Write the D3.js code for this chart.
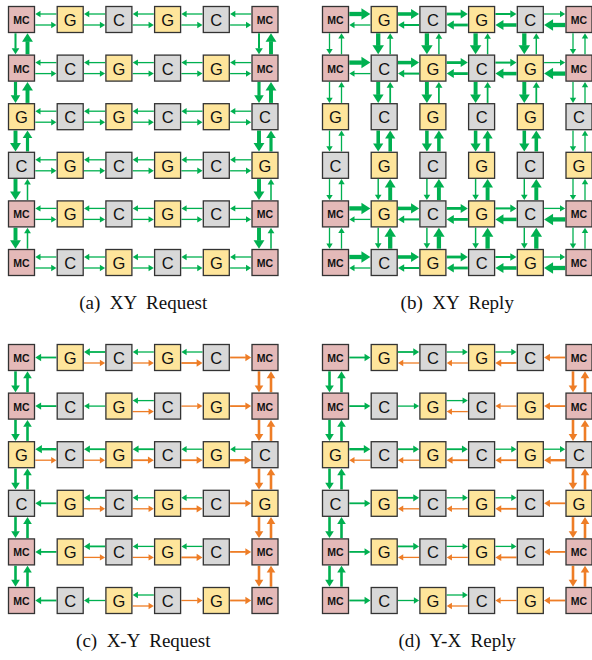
<!DOCTYPE html>
<html><head><meta charset="utf-8">
<script src="https://cdn.jsdelivr.net/npm/d3@7"></script>
<style>html,body{margin:0;padding:0;background:#fff;}</style>
</head><body>
<svg id="chart" width="592" height="660"></svg>
<script>
// ---------- data ----------
const nodeTypes = [
  ["MC","G","C","G","C","MC"],
  ["MC","C","G","C","G","MC"],
  ["G","C","G","C","G","C"],
  ["C","G","C","G","C","G"],
  ["MC","G","C","G","C","MC"],
  ["MC","C","G","C","G","MC"]
];
const captions = ["(a)  XY  Request","(b)  XY  Reply","(c)  X-Y  Request","(d)  Y-X  Reply"];

// (a) XY Request: horizontal both ways everywhere, vertical only at MC columns
const aHorizLeft  = [[1,1,1,1,1],[1,1,1,1,1],[1,1,1,1,1],[1,1,1,1,1],[1,1,1,1,1],[1,1,1,1,1]];
const aHorizRight = [[1,1,1,1,1],[1,1,1,1,1],[1,1,1,1,1],[1,1,1,1,1],[1,1,1,1,1],[1,1,1,1,1]];
const aVertCols = [0,5];
const aVertDown = [2,3.5,4.5,4.5,4.5];
const aVertUp   = [4.5,4.5,3.5,1.3,1.3];

// (b) XY Reply: horizontal only in MC rows, vertical in all columns
const bHorizRows  = [0,1,4,5];
const bHorizRight = [5,4,3,2,1];
const bHorizLeft  = [1,2,3,4,5];
const bEdgeCols = [0,5];
const bEdgeDown = [1,1,1,1,1];
const bEdgeUp   = [1,1,1,1,1];
const bInnerCols = [1,2,3,4];
const bInnerDown = [5,4.5,4,1.2,1.2];
const bInnerUp   = [1.2,1.6,4,4.5,5];

// (c) X-Y Request: green to the left, orange to the right
const cGreenLeft = [[2,2,1,1,0],[2,1,1,0,0],[3,2,2,1,1],[2,2,1,1,0],[2,2,1,1,0],[2,1,1,0,0]];
const cOrangeRight = [[0,1,1,2,2],[0,0,1,1,2],[1,1,2,2,3],[0,1,1,2,2],[0,1,1,2,2],[0,0,1,1,2]];
const cVertGreen  = [2.6,2.6,2.6,2.6,2.6];
const cVertOrange = [2.6,2.6,2.6,2.6,2.6];

// (d) Y-X Reply: green to the right, orange to the left
const dGreenRight = [[2,2,1,1,0],[2,1,1,0,0],[3,2,2,1,1],[2,2,1,1,0],[2,2,1,1,0],[2,1,1,0,0]];
const dOrangeLeft = [[0,1,1,2,2],[0,0,1,1,2],[1,1,2,2,3],[0,1,1,2,2],[0,1,1,2,2],[0,0,1,1,2]];
const dVertGreen  = [2.6,2.6,2.6,2.6,2.6];
const dVertOrange = [2.6,2.6,2.6,2.6,2.6];

// ---------- style ----------
const GREEN = "#00b050", ORANGE = "#ee7d26";
const fills = {MC:"#e4b9b8", G:"#fee59b", C:"#d8d8d8"};
const BOX = 27;
const panelOrigins = [[8,6],[322,6],[8,344],[322,344]];
const captionY = [309, 309, 647, 647];

const svg = d3.select("#chart");
const widthScale = d3.scaleLinear().domain([1,5]).range([1.3,4.3]);
const hcScale = d3.scaleLinear().domain([1,2,3]).range([1.3,1.8,2.4]);

function arrowPath(x0,y0,x1,y1,w){
  const dx=x1-x0, dy=y1-y0, len=Math.hypot(dx,dy);
  const ux=dx/len, uy=dy/len, px=-uy, py=ux;
  const L=3.6+1.25*w, H=2.1+0.85*w;
  const bx=x1-ux*L, by=y1-uy*L;
  return {shaft:[x0,y0,bx+ux*0.5,by+uy*0.5],
          head:`M${x1},${y1}L${bx+px*H},${by+py*H}L${bx-px*H},${by-py*H}Z`};
}

panelOrigins.forEach((o,pi)=>{
  const g = svg.append("g");
  const x = d3.scaleLinear().domain([0,5]).range([o[0], o[0]+5*48.7]);
  const y = d3.scaleLinear().domain([0,5]).range([o[1], o[1]+5*48.6]);
  const links = [];
  const H = (r,c,dir,slot,w,color)=>{
    const yy = y(r)+BOX/2+slot*5.5;
    const left = x(c)+BOX+0.3, right = x(c+1)-0.3;
    links.push(dir==="L" ? [right,yy,left,yy,w,color] : [left,yy,right,yy,w,color]);
  };
  const V = (r,c,dir,slot,w,color)=>{
    const xx = x(c)+BOX/2+slot*6;
    const top = y(r)+BOX+0.3, bot = y(r+1)-0.3;
    links.push(dir==="D" ? [xx,top,xx,bot,w,color] : [xx,bot,xx,top,w,color]);
  };
  if(pi===0){
    aHorizLeft.forEach((row,r)=>row.forEach((v,c)=>{ if(v) H(r,c,"L",-1,widthScale(v),GREEN); }));
    aHorizRight.forEach((row,r)=>row.forEach((v,c)=>{ if(v) H(r,c,"R",1,widthScale(v),GREEN); }));
    aVertCols.forEach(c=>{
      aVertDown.forEach((v,r)=>V(r,c,"D",-1,widthScale(v),GREEN));
      aVertUp.forEach((v,r)=>V(r,c,"U",1,widthScale(v),GREEN));
    });
  } else if(pi===1){
    bHorizRows.forEach(r=>{
      bHorizRight.forEach((v,c)=>H(r,c,"R",-1,widthScale(v),GREEN));
      bHorizLeft.forEach((v,c)=>H(r,c,"L",1,widthScale(v),GREEN));
    });
    bEdgeCols.forEach(c=>{
      bEdgeDown.forEach((v,r)=>V(r,c,"D",-1,widthScale(v),GREEN));
      bEdgeUp.forEach((v,r)=>V(r,c,"U",1,widthScale(v),GREEN));
    });
    bInnerCols.forEach(c=>{
      bInnerDown.forEach((v,r)=>V(r,c,"D",-1,widthScale(v),GREEN));
      bInnerUp.forEach((v,r)=>V(r,c,"U",1,widthScale(v),GREEN));
    });
  } else {
    const gm = pi===2 ? cGreenLeft : dGreenRight;
    const om = pi===2 ? cOrangeRight : dOrangeLeft;
    const gd = pi===2 ? "L" : "R", od = pi===2 ? "R" : "L";
    gm.forEach((row,r)=>row.forEach((gv,c)=>{
      const ov = om[r][c];
      if(gv && ov){ H(r,c,gd,-1,hcScale(gv),GREEN); H(r,c,od,1,hcScale(ov),ORANGE); }
      else if(gv){ H(r,c,gd,0,hcScale(gv),GREEN); }
      else if(ov){ H(r,c,od,0,hcScale(ov),ORANGE); }
    }));
    const vg = pi===2 ? cVertGreen : dVertGreen;
    const vo = pi===2 ? cVertOrange : dVertOrange;
    vg.forEach((v,r)=>{ V(r,0,"D",-1,v,GREEN); V(r,0,"U",1,v,GREEN); });
    vo.forEach((v,r)=>{ V(r,5,"D",-1,v,ORANGE); V(r,5,"U",1,v,ORANGE); });
  }
  const lg = g.append("g");
  links.forEach(l=>{
    const a = arrowPath(l[0],l[1],l[2],l[3],l[4]);
    lg.append("line").attr("x1",a.shaft[0]).attr("y1",a.shaft[1]).attr("x2",a.shaft[2]).attr("y2",a.shaft[3])
      .attr("stroke",l[5]).attr("stroke-width",l[4]);
    lg.append("path").attr("d",a.head).attr("fill",l[5]);
  });
  const cells = [];
  nodeTypes.forEach((row,r)=>row.forEach((t,c)=>cells.push({r,c,t})));
  const ng = g.selectAll("g.node").data(cells).join("g").attr("class","node")
    .attr("transform",d=>`translate(${x(d.c)},${y(d.r)})`);
  ng.append("rect").attr("x",0.5).attr("y",0.5).attr("width",BOX-1).attr("height",BOX-1)
    .attr("fill",d=>fills[d.t]).attr("stroke","#333").attr("stroke-width",1.3);
  ng.append("text").attr("x",BOX/2).attr("y",BOX/2+0.5)
    .attr("text-anchor","middle").attr("dominant-baseline","central")
    .attr("font-family","Liberation Sans, Arial, sans-serif")
    .attr("font-size",d=>d.t==="MC"?10.5:16.5)
    .attr("font-weight",d=>d.t==="MC"?"bold":"normal")
    .attr("fill","#111")
    .text(d=>d.t);
  svg.append("text").attr("x",o[0]+(5*48.7+BOX)/2).attr("y",captionY[pi])
    .attr("text-anchor","middle").attr("font-family","Liberation Serif, Times New Roman, serif")
    .attr("font-size",19).attr("fill","#111").style("white-space","pre")
    .text(captions[pi]);
});
</script>
</body></html>
